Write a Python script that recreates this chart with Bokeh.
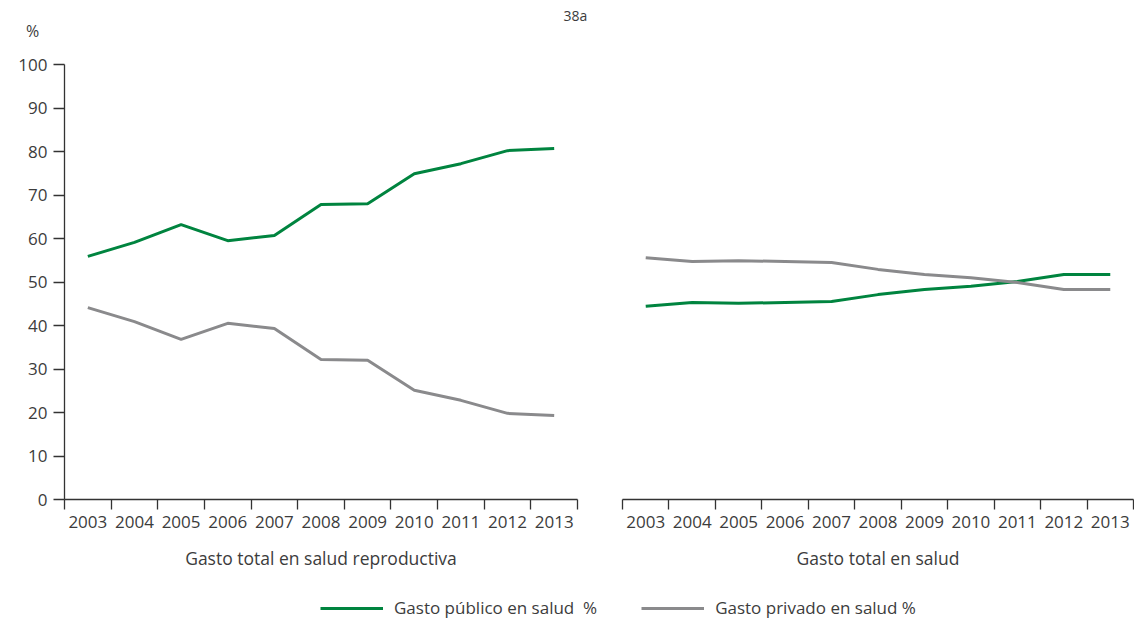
from bokeh.plotting import figure
from bokeh.layouts import row, column
from bokeh.models import Range1d, FixedTicker, Label, Legend, LegendItem
from bokeh.embed import file_html
from bokeh.resources import INLINE

years = [2003, 2004, 2005, 2006, 2007, 2008, 2009, 2010, 2011, 2012, 2013]
year_labels = [str(y) for y in years]

# Gasto total en salud reproductiva
repro_publico = [55.9, 59.1, 63.2, 59.5, 60.7, 67.8, 68.0, 74.9, 77.2, 80.2, 80.7]
repro_privado = [44.1, 40.9, 36.8, 40.5, 39.3, 32.2, 32.0, 25.1, 22.8, 19.8, 19.3]

# Gasto total en salud
total_publico = [44.4, 45.3, 45.1, 45.3, 45.5, 47.1, 48.3, 49.0, 50.1, 51.7, 51.7]
total_privado = [55.6, 54.7, 54.9, 54.7, 54.5, 52.9, 51.7, 51.0, 49.9, 48.3, 48.3]

y_ticks = [0, 10, 20, 30, 40, 50, 60, 70, 80, 90, 100]

panel_titles = ["Gasto total en salud reproductiva", "Gasto total en salud"]
series_names = ["Gasto público en salud  %", "Gasto privado en salud %"]
unit_label = "%"
chart_id = "38a"

GREEN = "#00843f"
GREY = "#8a8a8c"
TEXT = "#3c3c3c"
AXIS = "#333333"
FONT = "Open Sans"


def style_xaxis(p, title):
    bounds = [y - 0.5 for y in years] + [years[-1] + 0.5]
    ax = p.xaxis[0]
    ax.ticker = FixedTicker(ticks=years, minor_ticks=bounds)
    ax.major_label_overrides = {y: s for y, s in zip(years, year_labels)}
    ax.major_tick_line_color = None
    ax.major_tick_out = 10
    ax.major_tick_in = 0
    ax.minor_tick_line_color = AXIS
    ax.minor_tick_line_width = 1.3
    ax.minor_tick_out = 10
    ax.minor_tick_in = 0
    ax.axis_line_color = AXIS
    ax.axis_line_width = 1.3
    ax.major_label_text_font = FONT
    ax.major_label_text_font_size = "17px"
    ax.major_label_text_color = TEXT
    ax.major_label_standoff = 6
    ax.axis_label = title
    ax.axis_label_text_font = FONT
    ax.axis_label_text_font_size = "17.5px"
    ax.axis_label_text_font_style = "normal"
    ax.axis_label_text_color = TEXT
    ax.axis_label_standoff = 15


def make_panel(pub, priv, title, left, fw, mbl, mbr):
    p = figure(
        frame_width=fw, frame_height=435,
        min_border_left=mbl, min_border_right=mbr,
        min_border_top=16, min_border_bottom=79,
        x_range=Range1d(years[0] - 0.5, years[-1] + 0.5),
        y_range=Range1d(0, 100),
        output_backend="svg", toolbar_location=None,
        y_axis_location="left" if left else None,
    )
    p.outline_line_color = None
    p.grid.visible = False
    p.background_fill_color = None
    p.border_fill_color = None
    p.line(years, pub, line_color=GREEN, line_width=3)
    p.line(years, priv, line_color=GREY, line_width=3)
    style_xaxis(p, title)
    if left:
        ay = p.yaxis[0]
        ay.ticker = FixedTicker(ticks=y_ticks)
        ay.major_tick_out = 11
        ay.major_tick_in = 0
        ay.major_tick_line_color = AXIS
        ay.major_tick_line_width = 1.3
        ay.minor_tick_line_color = None
        ay.axis_line_color = AXIS
        ay.axis_line_width = 1.3
        ay.major_label_text_font = FONT
        ay.major_label_text_font_size = "17px"
        ay.major_label_text_color = TEXT
        ay.major_label_standoff = 6
    return p


left = make_panel(repro_publico, repro_privado, panel_titles[0], True, 513, 64, 23)
right = make_panel(total_publico, total_privado, panel_titles[1], False, 511, 22, 1)

# top strip with "%" and "38a"
top = figure(frame_width=1134, frame_height=48, min_border=0,
             x_range=Range1d(0, 1), y_range=Range1d(0, 1),
             output_backend="svg", toolbar_location=None,
             x_axis_location=None, y_axis_location=None)
top.outline_line_color = None
top.grid.visible = False
top.add_layout(Label(x=32, y=18, x_units="screen", y_units="screen", text=unit_label,
                     text_font=FONT, text_font_size="16px", text_color=TEXT,
                     text_align="center", text_baseline="middle"))
top.add_layout(Label(x=575, y=33, x_units="screen", y_units="screen", text=chart_id,
                     text_font=FONT, text_font_size="14px", text_color=TEXT,
                     text_align="center", text_baseline="middle"))

# legend strip
lg = figure(frame_width=1134, frame_height=41, min_border=0,
            x_range=Range1d(2002.5, 2013.5), y_range=Range1d(0, 100),
            output_backend="svg", toolbar_location=None,
            x_axis_location=None, y_axis_location=None)
lg.outline_line_color = None
lg.grid.visible = False
r1 = lg.line(years, repro_publico, line_color=GREEN, line_width=3, visible=False)
r2 = lg.line(years, repro_privado, line_color=GREY, line_width=3, visible=False)
legend = Legend(
    items=[LegendItem(label=series_names[0], renderers=[r1]),
           LegendItem(label=series_names[1], renderers=[r2])],
    location=(320, 0), orientation="horizontal",
    padding=0, margin=0, spacing=44,
    glyph_width=63, glyph_height=18, label_height=18,
    label_standoff=11,
    label_text_font=FONT, label_text_font_size="17px", label_text_color=TEXT,
    border_line_color=None, background_fill_alpha=0,
)
lg.add_layout(legend)

layout = column(top, row(left, right, spacing=0), lg, spacing=0)
open("out.html", "w").write(file_html(layout, INLINE))
